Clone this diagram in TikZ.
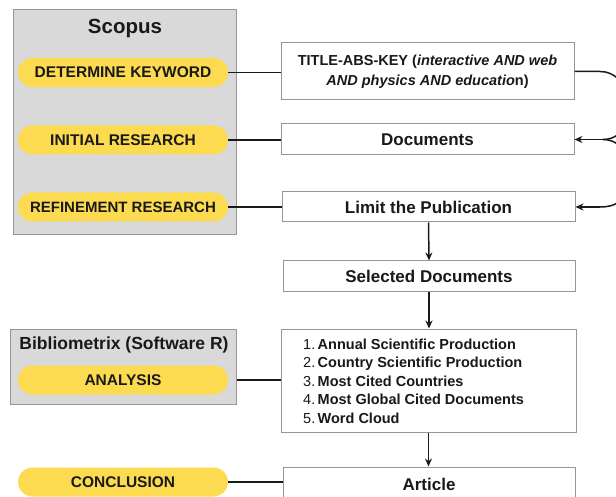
\documentclass[tikz,border=0pt]{standalone}
\usepackage{fontspec}
\setmainfont{Liberation Sans}
\usetikzlibrary{arrows.meta}
\definecolor{pillyellow}{RGB}{253,219,80}
\definecolor{panelgray}{RGB}{217,217,217}
\definecolor{edgegray}{RGB}{150,150,150}
\definecolor{ink}{RGB}{25,25,25}
\tikzset{
  panel/.style={draw=edgegray, fill=panelgray, line width=1pt, inner sep=0pt},
  pill/.style={fill=pillyellow, rounded corners=14.5pt, minimum width=210pt, minimum height=29pt, inner sep=0pt, text=ink, font=\fontsize{15.5}{18}\selectfont\bfseries},
  stepbox/.style={draw=edgegray, fill=white, line width=1pt, inner sep=0pt, text=ink, font=\fontsize{17}{20}\selectfont\bfseries},
  paneltitle/.style={text=ink, inner sep=0pt},
  link/.style={line width=1.5pt, draw=ink},
  flow/.style={line width=1.5pt, draw=ink, -{Stealth[length=8pt,width=7pt]}}
}
\begin{document}
\begin{tikzpicture}[x=1pt, y=-1pt]
\useasboundingbox (0,0) rectangle (616,497);
% Scopus panel
\node[panel, minimum width=223pt, minimum height=225pt] (scopus) at (124.5,122.5) {};
\node[paneltitle, font=\fontsize{20.5}{24}\selectfont\bfseries] (scopustitle) at (125,28.5) {Scopus};
\node[pill] (kw) at (123,72.5) {DETERMINE KEYWORD};
\node[pill] (init) at (123,140) {INITIAL RESEARCH};
\node[pill, font=\fontsize{15}{18}\selectfont\bfseries] (refine) at (123,207) {REFINEMENT RESEARCH};
% Bibliometrix panel
\node[panel, minimum width=226pt, minimum height=75pt] (bib) at (123,366.5) {};
\node[paneltitle, font=\fontsize{17.5}{20}\selectfont\bfseries] (bibtitle) at (124,345) {Bibliometrix (Software R)};
\node[pill] (analysis) at (123,380) {ANALYSIS};
\node[pill] (concl) at (123,482) {CONCLUSION};
% Right column
\node[stepbox, minimum width=293pt, minimum height=57pt, align=center, font=\fontsize{14.5}{20}\selectfont\bfseries] (query) at (427.5,71.5)
  {TITLE-ABS-KEY (\textit{interactive AND web}\\\textit{AND physics AND educatio}n)};
\node[stepbox, minimum width=293pt, minimum height=31pt] (docs) at (427.5,139.5) {Documents};
\node[stepbox, minimum width=293pt, minimum height=30pt] (limit) at (428.5,207) {Limit the Publication};
\node[stepbox, minimum width=292pt, minimum height=30pt] (sel) at (429,276) {Selected Documents};
\node[stepbox, minimum width=295pt, minimum height=103pt] (list) at (428.5,380.5) {};
\node[text=ink, inner sep=0pt, anchor=north west, font=\fontsize{14.5}{18.5}\selectfont] (items) at (303,336)
  {\begin{tabular}{@{}r@{\,}l@{}}
   1. & \textbf{Annual Scientific Production}\\
   2. & \textbf{Country Scientific Production}\\
   3. & \textbf{Most Cited Countries}\\
   4. & \textbf{Most Global Cited Documents}\\
   5. & \textbf{Word Cloud}
   \end{tabular}};
\node[stepbox, minimum width=292pt, minimum height=34pt] (article) at (429,484) {Article};
% Connectors
\draw[link] (kw.east) -- (kw.east -| query.west);
\draw[link] (init.east) -- (init.east -| docs.west);
\draw[link] (refine.east) -- (refine.east -| limit.west);
\draw[link] (analysis.east -| bib.east) -- (analysis.east -| list.west);
\draw[link] (concl.east) -- (concl.east -| article.west);
\draw[flow] (limit.south) -- (sel.north);
\draw[flow] (sel.south) -- (sel.south |- list.north);
\draw[flow] (list.south) -- (list.south |- article.north);
% Bracket on the right
\coordinate (b1) at (600,71.5);
\coordinate (b2) at (624,92);
\coordinate (b3) at (624,122);
\coordinate (tip) at (603,139.5);
\coordinate (b4) at (624,157);
\coordinate (b5) at (624,190);
\coordinate (b6) at (600,207);
\draw[link] (query.east) -- (b1) .. controls +(14,0) and +(0,-10) .. (b2) -- (b3) .. controls +(0,10) and +(12,0) .. (tip);
\draw[flow] (tip) -- (docs.east);
\draw[link] (tip) .. controls +(12,0) and +(0,-10) .. (b4) -- (b5) .. controls +(0,12) and +(14,0) .. (b6);
\draw[flow] (b6) -- (limit.east);
\end{tikzpicture}
\end{document}
